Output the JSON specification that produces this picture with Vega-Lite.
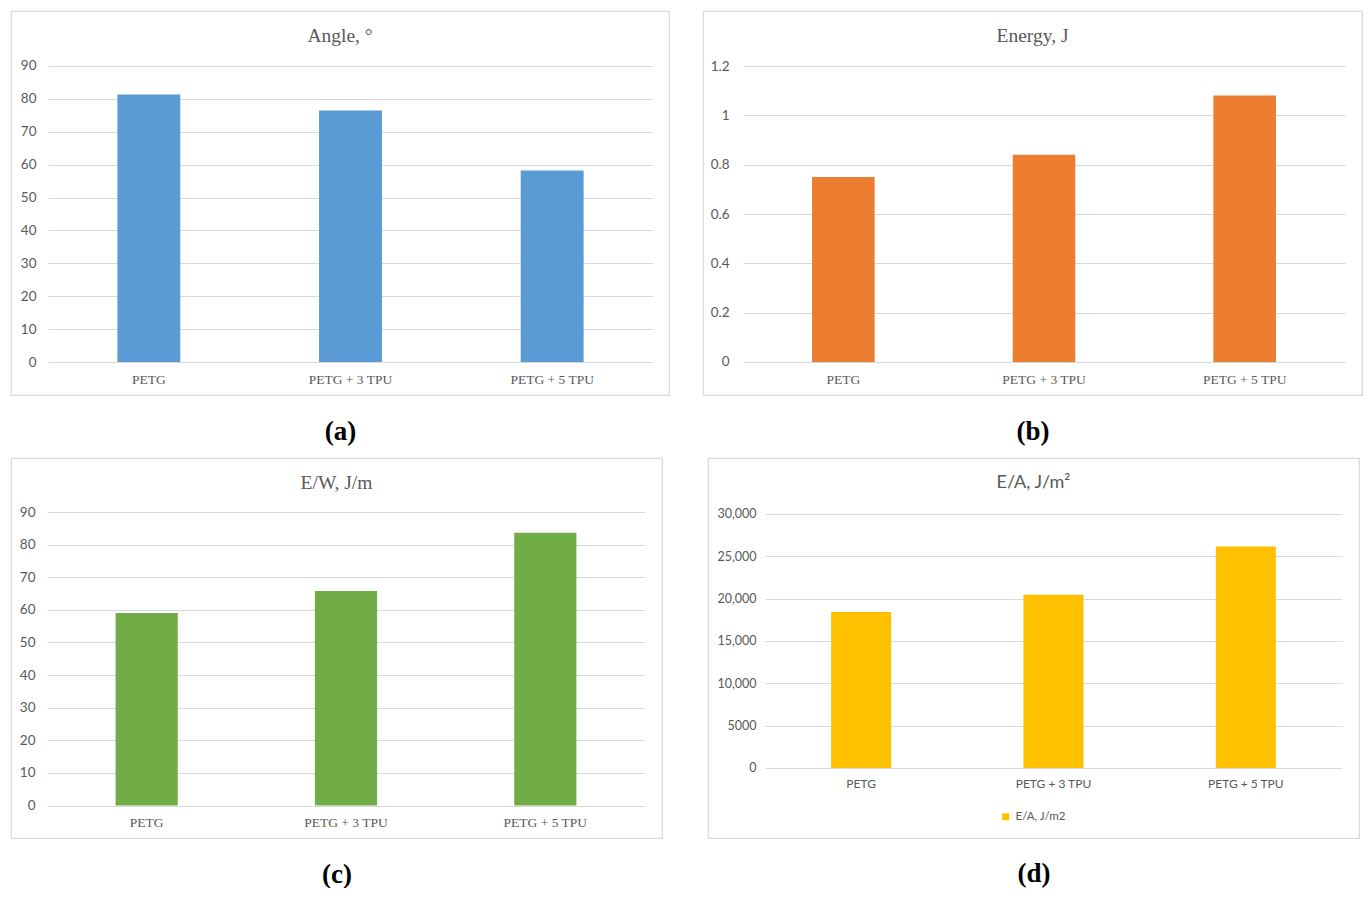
{
  "$schema": "https://vega.github.io/schema/vega-lite/v6.json",
  "padding": {"left": 10, "top": 10, "right": 0, "bottom": 0},
  "background": "white",
  "data": {
    "values": [
      {"material": "PETG", "angle": 81.3, "energy": 0.75, "ew": 59.0, "ea": 18420},
      {"material": "PETG + 3 TPU", "angle": 76.5, "energy": 0.84, "ew": 65.8, "ea": 20470},
      {"material": "PETG + 5 TPU", "angle": 58.2, "energy": 1.08, "ew": 83.6, "ea": 26150}
    ]
  },
  "spacing": 11,
  "vconcat": [
    {
      "spacing": 32,
      "hconcat": [
        {
          "width": 658,
          "height": 384,
          "title": {"text": "Angle,  °", "offset": -44, "baseline": "middle", "frame": "group", "font": "Liberation Serif", "fontSize": 19.5, "fontWeight": "normal", "color": "#595959"},
          "mark": {"type": "bar", "color": "#5B9BD5", "width": {"band": 0.312}},
          "encoding": {
            "x": {
              "field": "material", "type": "nominal", "sort": null,
              "scale": {"paddingInner": 0, "paddingOuter": 0.1314, "align": 0.698},
              "axis": {"orient": "bottom", "offset": -33, "labelAngle": 0, "ticks": false, "domain": false, "labelPadding": 10, "labelFont": "Liberation Serif", "labelFontSize": 13.5, "labelColor": "#595959", "title": "(a)", "titleFont": "Liberation Serif", "titleFontSize": 27, "titleFontWeight": "bold", "titleColor": "#000000", "titlePadding": 33}
            },
            "y": {
              "field": "angle", "type": "quantitative",
              "scale": {"domain": [-10.03, 106.72], "nice": false},
              "axis": {"values": [0, 10, 20, 30, 40, 50, 60, 70, 80, 90], "offset": -37, "tickSize": -605, "labelPadding": 617, "tickColor": "#D9D9D9", "tickWidth": 1, "domain": false, "grid": false, "title": null, "labelFont": "Lato", "labelFontSize": 13.5, "labelColor": "#595959"}
            }
          }
        },
        {
          "width": 659,
          "height": 384,
          "title": {"text": "Energy,  J", "offset": -44, "baseline": "middle", "frame": "group", "font": "Liberation Serif", "fontSize": 19.5, "fontWeight": "normal", "color": "#595959"},
          "mark": {"type": "bar", "color": "#ED7D31", "width": {"band": 0.312}},
          "encoding": {
            "x": {
              "field": "material", "type": "nominal", "sort": null,
              "scale": {"paddingInner": 0, "paddingOuter": 0.142, "align": 0.702},
              "axis": {"orient": "bottom", "offset": -33, "labelAngle": 0, "ticks": false, "domain": false, "labelPadding": 10, "labelFont": "Liberation Serif", "labelFontSize": 13.5, "labelColor": "#595959", "title": "(b)", "titleFont": "Liberation Serif", "titleFontSize": 27, "titleFontWeight": "bold", "titleColor": "#000000", "titlePadding": 33}
            },
            "y": {
              "field": "energy", "type": "quantitative",
              "scale": {"domain": [-0.1338, 1.423], "nice": false},
              "axis": {"values": [0, 0.2, 0.4, 0.6, 0.8, 1, 1.2], "format": "~g", "offset": -40, "tickSize": -602, "labelPadding": 616, "tickColor": "#D9D9D9", "tickWidth": 1, "domain": false, "grid": false, "title": null, "labelFont": "Lato", "labelFontSize": 13.5, "labelColor": "#595959"}
            }
          }
        }
      ]
    },
    {
      "spacing": 44,
      "hconcat": [
        {
          "width": 651,
          "height": 380,
          "title": {"text": "E/W, J/m", "offset": -44, "baseline": "middle", "frame": "group", "font": "Liberation Serif", "fontSize": 19.5, "fontWeight": "normal", "color": "#595959"},
          "mark": {"type": "bar", "color": "#70AD47", "width": {"band": 0.312}},
          "encoding": {
            "x": {
              "field": "material", "type": "nominal", "sort": null,
              "scale": {"paddingInner": 0, "paddingOuter": 0.133, "align": 0.679},
              "axis": {"orient": "bottom", "offset": -32.5, "labelAngle": 0, "ticks": false, "domain": false, "labelPadding": 10, "labelFont": "Liberation Serif", "labelFontSize": 13.5, "labelColor": "#595959", "title": "(c)", "titleFont": "Liberation Serif", "titleFontSize": 27, "titleFontWeight": "bold", "titleColor": "#000000", "titlePadding": 32}
            },
            "y": {
              "field": "ew", "type": "quantitative",
              "scale": {"domain": [-9.966, 106.56], "nice": false},
              "axis": {"values": [0, 10, 20, 30, 40, 50, 60, 70, 80, 90], "offset": -36, "tickSize": -598, "labelPadding": 610, "tickColor": "#D9D9D9", "tickWidth": 1, "domain": false, "grid": false, "title": null, "labelFont": "Lato", "labelFontSize": 13.5, "labelColor": "#595959"}
            }
          }
        },
        {
          "width": 651,
          "height": 380,
          "title": {"text": "E/A, J/m²", "offset": -43, "baseline": "middle", "frame": "group", "font": "Lato", "fontSize": 18, "fontWeight": "normal", "color": "#595959"},
          "mark": {"type": "bar", "width": {"band": 0.312}},
          "encoding": {
            "x": {
              "field": "material", "type": "nominal", "sort": null,
              "scale": {"paddingInner": 0, "paddingOuter": 0.1924, "align": 0.77},
              "axis": {"orient": "bottom", "offset": -70, "labelAngle": 0, "ticks": false, "domain": false, "labelPadding": 10, "labelFont": "Lato", "labelFontSize": 12, "labelColor": "#595959", "title": "(d)", "titleFont": "Liberation Serif", "titleFontSize": 27, "titleFontWeight": "bold", "titleColor": "#000000", "titlePadding": 71}
            },
            "y": {
              "field": "ea", "type": "quantitative",
              "scale": {"domain": [-8268, 36614], "nice": false},
              "axis": {"values": [0, 5000, 10000, 15000, 20000, 25000, 30000], "labelExpr": "datum.value >= 10000 ? format(datum.value, ',') : format(datum.value, 'd')", "offset": -57, "tickSize": -577, "labelPadding": 586, "tickColor": "#D9D9D9", "tickWidth": 1, "domain": false, "grid": false, "title": null, "labelFont": "Lato", "labelFontSize": 12.5, "labelColor": "#595959"}
            },
            "color": {
              "datum": "E/A, J/m2",
              "scale": {"range": ["#FFC000"]},
              "legend": {"orient": "none", "legendX": 989, "legendY": 800, "title": null, "padding": 0, "symbolType": "square", "symbolSize": 49, "symbolStrokeWidth": 0, "labelFont": "Lato", "labelFontSize": 11.5, "labelColor": "#595959", "labelOffset": 4}
            }
          }
        }
      ]
    }
  ],
  "config": {
    "view": {"stroke": "#D9D9D9", "strokeWidth": 1.2}
  }
}
